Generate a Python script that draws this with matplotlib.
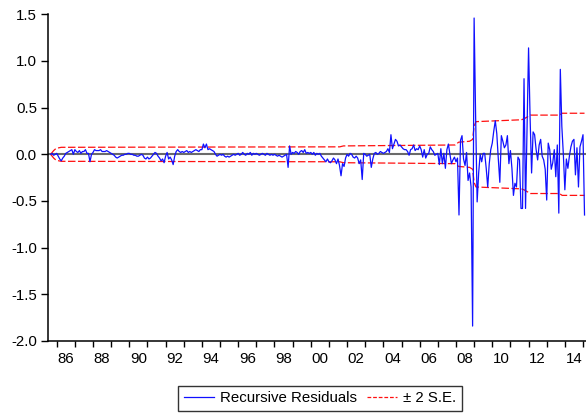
import numpy as np
import matplotlib
matplotlib.use("Agg")
import matplotlib.pyplot as plt
from matplotlib.lines import Line2D

plt.rcParams['font.family'] = ['Liberation Sans', 'DejaVu Sans']

# monthly recursive residuals, 1985M09 .. 2015M02
start_year, start_month = 1985, 9
resid = [
    0.00, 0.01, -0.01, 0.00,                                                    # 1985
    0.01, -0.02, -0.05, -0.07, -0.04, -0.02, 0.01, 0.02, 0.03, 0.04, 0.05, 0.00,  # 1986
    0.05, 0.03, 0.02, 0.04, 0.01, 0.03, 0.03, 0.05, 0.01, 0.01, -0.08, 0.00,     # 1987
    0.02, 0.05, 0.04, 0.04, 0.04, 0.05, 0.03, 0.03, 0.03, 0.04, 0.03, 0.02,      # 1988
    0.01, 0.00, -0.01, -0.03, -0.04, -0.03, -0.02, -0.01, -0.01, 0.00, 0.00, 0.01,  # 1989
    0.01, 0.00, 0.00, -0.01, -0.01, -0.02, -0.02, -0.01, 0.00, -0.01, -0.04, -0.05,  # 1990
    -0.03, -0.05, -0.04, -0.02, 0.00, 0.02, 0.01, -0.02, -0.04, -0.07, -0.05, -0.09,  # 1991
    -0.02, 0.02, -0.05, -0.03, -0.06, -0.11, -0.02, 0.03, 0.05, 0.03, 0.02, 0.03,  # 1992
    0.02, 0.03, 0.04, 0.02, 0.03, 0.02, 0.03, 0.04, 0.05, 0.04, 0.03, 0.05,      # 1993
    0.05, 0.11, 0.07, 0.11, 0.05, 0.06, 0.05, 0.04, 0.03, 0.00, -0.02, -0.01,    # 1994
    0.00, -0.01, 0.00, -0.02, -0.03, -0.02, -0.03, -0.02, -0.01, 0.00, -0.01, 0.00,  # 1995
    0.01, -0.01, 0.00, 0.02, 0.00, -0.01, 0.01, 0.00, 0.02, -0.01, 0.01, 0.00,   # 1996
    0.01, 0.00, -0.01, 0.00, 0.01, 0.00, -0.01, 0.01, 0.00, -0.01, 0.00, -0.01,  # 1997
    0.00, -0.01, -0.02, -0.01, -0.02, -0.03, -0.02, -0.01, 0.00, -0.14, 0.09, 0.00,  # 1998
    0.02, 0.01, 0.03, 0.02, 0.00, 0.03, 0.04, 0.02, 0.05, 0.01, 0.02, 0.01,      # 1999
    0.02, 0.00, 0.02, -0.01, 0.01, 0.00, 0.01, -0.02, -0.04, -0.06, -0.08, -0.05,  # 2000
    -0.08, -0.09, -0.07, -0.04, -0.06, -0.10, -0.05, -0.12, -0.23, -0.10, -0.13, -0.04,  # 2001
    0.00, -0.02, 0.01, 0.00, -0.03, -0.04, -0.02, -0.04, -0.10, -0.06, -0.27, 0.01,  # 2002
    0.00, -0.02, -0.01, 0.00, -0.14, -0.05, 0.01, 0.02, 0.00, 0.01, 0.03, 0.02,  # 2003
    0.01, 0.02, 0.03, 0.06, 0.02, 0.21, 0.06, 0.11, 0.16, 0.14, 0.09, 0.10,      # 2004
    0.08, 0.06, 0.05, 0.05, 0.03, -0.01, 0.05, 0.06, 0.10, 0.04, 0.06, 0.05,     # 2005
    0.09, 0.05, -0.03, 0.05, -0.04, 0.00, 0.01, 0.08, 0.05, 0.03, -0.01, 0.00,   # 2006
    0.01, -0.11, 0.06, -0.10, 0.01, -0.15, 0.05, 0.11, 0.00, -0.10, -0.06, -0.03,  # 2007
    -0.08, -0.04, -0.65, 0.15, 0.20, -0.05, -0.12, 0.02, -0.28, -0.20, -0.35, -1.84,  # 2008
    1.46, 0.40, -0.51, -0.20, 0.00, -0.08, 0.01, 0.01, -0.15, -0.35, -0.10, 0.05,  # 2009
    0.12, 0.25, 0.36, 0.22, -0.05, -0.30, 0.20, 0.14, 0.07, 0.10, 0.20, -0.10,   # 2010
    0.04, -0.15, -0.44, -0.31, -0.35, -0.03, -0.06, -0.58, -0.58, 0.81, -0.58, 0.25,  # 2011
    1.14, 0.40, -0.20, 0.24, 0.21, 0.05, -0.06, 0.10, 0.16, -0.02, -0.06, -0.16,  # 2012
    -0.49, 0.12, 0.05, -0.16, -0.09, 0.05, -0.24, 0.10, -0.63, 0.91, 0.30, 0.00,  # 2013
    -0.38, -0.05, -0.15, -0.02, 0.08, 0.14, 0.16, -0.22, 0.07, -0.35, 0.08, 0.14,  # 2014
    0.21, -0.65,                                                                # 2015
]

# two standard error band (symmetric), read at the points where it changes
band_t = [1985.667, 1985.75, 1985.833, 1985.917, 1986.0, 1986.25, 1995.0, 2001.6,
          2001.8, 2005.0, 2007.95, 2008.15, 2008.75, 2008.917, 2009.0, 2009.1,
          2011.6, 2011.75, 2012.1, 2013.7, 2013.85, 2015.083]
band_se = [0.0, 0.02, 0.04, 0.055, 0.065, 0.075, 0.078, 0.08,
           0.09, 0.095, 0.10, 0.13, 0.14, 0.16, 0.30, 0.35,
           0.37, 0.38, 0.42, 0.42, 0.44, 0.44]

y_ticks = [-2.0, -1.5, -1.0, -0.5, 0.0, 0.5, 1.0, 1.5]
year_ticks = list(range(1986, 2016))
label_years = list(range(1986, 2015, 2))

t = start_year + (start_month - 1) / 12 + np.arange(len(resid)) / 12
band_t = np.array(band_t)
band_se = np.array(band_se)

fig = plt.figure(figsize=(5.86, 4.13), dpi=100)
ax = fig.add_axes([48 / 586, 1 - 341 / 413, 1 - 48 / 586, (341 - 14.3) / 413])

ax.axhline(0, color='#6a6a6a', lw=1.5, zorder=1)
ax.plot(t, resid, color='#1010ff', lw=0.9, zorder=3)
ax.plot(band_t, band_se, color='#ff1010', lw=0.9, dashes=(6, 2), zorder=2)
ax.plot(band_t, -band_se, color='#ff1010', lw=0.9, dashes=(6, 2), zorder=2)

ax.set_xlim(1985.52, 2015.165)
ax.set_ylim(-2.0, 1.5)

for side in ['top', 'right']:
    ax.spines[side].set_visible(False)
for side in ['left', 'bottom']:
    ax.spines[side].set_linewidth(1.1)
    ax.spines[side].set_color('black')

ax.set_yticks(y_ticks)
ax.set_yticklabels([f"{v:.1f}" for v in y_ticks])
ax.tick_params(axis='y', direction='out', length=5, width=1, pad=3, labelsize=10.8)

# year ticks on the boundaries, labels centred in the year
ax.set_xticks(year_ticks)
ax.set_xticklabels([])
ax.set_xticks([y + 0.5 for y in label_years], minor=True)
ax.set_xticklabels([f"{y % 100:02d}" for y in label_years], minor=True)
ax.tick_params(axis='x', which='major', direction='out', length=4, width=1)
ax.tick_params(axis='x', which='minor', length=0, pad=8, labelsize=10.8)

handles = [Line2D([], [], color='#1010ff', lw=0.9),
           Line2D([], [], color='#ff1010', lw=0.9, dashes=(3, 1.5))]
leg = fig.legend(handles, ['Recursive Residuals', '± 2 S.E.'], loc='center',
                 bbox_to_anchor=(320 / 586, 1 - 398.5 / 413), ncol=2,
                 fontsize=10.8, frameon=True, fancybox=False, handlelength=2.0,
                 handletextpad=0.4, columnspacing=0.7, borderpad=0.35,
                 borderaxespad=0)
leg.get_frame().set_edgecolor('black')
leg.get_frame().set_linewidth(1.0)

fig.savefig('out.png', dpi=100)
